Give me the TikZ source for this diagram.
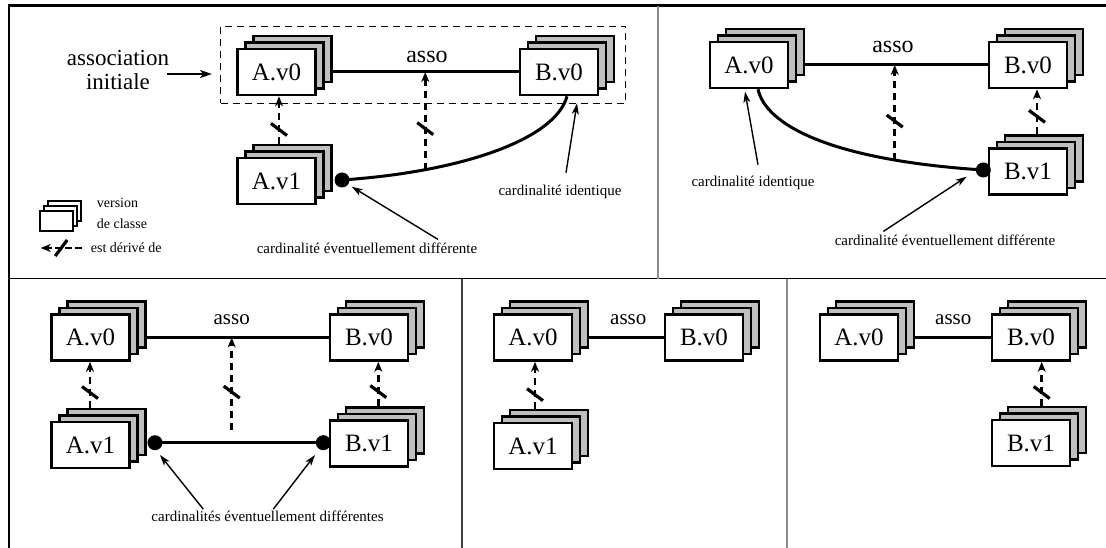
\documentclass[tikz,border=0pt]{standalone}
\usepackage{fontspec}
\setmainfont{Liberation Serif}
\usetikzlibrary{arrows.meta,decorations.markings,calc}
\tikzset{
  cls/.style={draw, line width=2.6pt, fill=white, minimum width=78pt, minimum height=46pt, inner sep=0pt, font=\fontsize{25}{30}\selectfont},
  clsback/.style={draw, line width=2.6pt, fill=gray!50, minimum width=78pt, minimum height=46pt, inner sep=0pt},
  legbox/.style={draw, line width=2.6pt, fill=white, minimum width=33pt, minimum height=20pt, inner sep=0pt},
  assoline/.style={line width=3pt},
  assolbl/.style={inner sep=0pt, font=\fontsize{24}{28}\selectfont},
  assolbltwo/.style={inner sep=0pt, font=\fontsize{21}{25}\selectfont},
  dot/.style={circle, fill=black, inner sep=0pt, minimum size=15pt},
  ann/.style={inner sep=1pt, font=\fontsize{15}{18}\selectfont},
  legtxt/.style={inner sep=0pt, anchor=west, font=\fontsize{14}{17}\selectfont},
  annarrow/.style={line width=1.4pt, -{Stealth[length=11pt,width=7pt,inset=3pt]}},
  bigarrow/.style={line width=2pt, -{Stealth[length=12pt,width=8pt,inset=3pt]}},
  dashbox/.style={draw, line width=1.3pt, dash pattern=on 7pt off 5pt},
  deriv/.style={line width=2.6pt, dash pattern=on 7pt off 5pt, -{Stealth[length=10pt,width=8pt,inset=3pt]},
    decoration={markings, mark=at position #1 with {\draw[solid,arrows=-,line width=3.2pt] (6pt,8pt) -- (-6pt,-8pt);}},
    postaction={decorate}},
  deriv/.default=0.38
}
\newcommand{\clsstack}[3]{%
  \node[clsback,xshift=16pt,yshift=13pt] (#1b) at (#2) {};
  \node[clsback,xshift=8pt,yshift=6.5pt] (#1m) at (#2) {};
  \node[cls] (#1) at (#2) {#3};
}
\begin{document}
\begin{tikzpicture}[x=1pt,y=-1pt]
\useasboundingbox (0,0) rectangle (1106,548);
% frame
\draw[line width=2.6pt] (9,6) -- (9,548);
\draw[line width=3pt] (7.7,6) -- (1106,6);
\draw[line width=1.4pt] (9,278.7) -- (1106,278.7);
\draw[gray!90, line width=1.2pt] (658,6) -- (658,278.7);
\draw[black!75, line width=1.2pt] (462,278.7) -- (462,548);
\draw[gray!90, line width=1.2pt] (787,278.7) -- (787,548);

% ---------- panel 1
\node[dashbox, minimum width=405pt, minimum height=77pt] (p1frame) at (423.2,64.7) {};
\clsstack{p1av0}{276.5,72}{A.v0}
\clsstack{p1bv0}{559,72}{B.v0}
\clsstack{p1av1}{276.5,181}{A.v1}
\node[assolbl] (p1asso) at (427,57) {asso};
\draw[assoline] (p1av0b.east |- p1av0.center) -- (p1bv0.west);
\node[dot] (p1d1) at (342,180) {};
\draw[assoline] (p1d1.center) .. controls (460,172) and (555,140) .. ([xshift=8pt]p1bv0.south) coordinate[pos=0.25] (p1c);
\draw[deriv=0.42] (p1c) -- (p1c |- p1av0.center);
\draw[deriv=0.3] ([xshift=-13.5pt]p1av1b.north) -- ([xshift=2.5pt]p1av0.south);
\node[ann] (p1ci) at (560,191.7) {cardinalité identique};
\draw[annarrow] ([shift={(6pt,11pt)}]p1ci.north) -- ([shift={(18pt,-7pt)}]p1bv0.south);
\node[ann] (p1cd) at (367,248) {cardinalité éventuellement différente};
\draw[annarrow] ([shift={(71pt,2pt)}]p1cd.north) -- ([shift={(9.7pt,-6.7pt)}]p1d1.center);
\node[align=center, inner sep=0pt, font=\fontsize{23}{24}\selectfont] (assoc) at (118,70) {association\\initiale};
\coordinate (ai2) at (212,74);
\draw[bigarrow] ([xshift=-2pt]assoc.east |- ai2) -- (ai2);
% legend
\node[legbox] (lg3) at (64.5,211) {};
\node[legbox] (lg2) at (60.5,216) {};
\node[legbox] (lg1) at (56.5,221) {};
\node[legtxt] (lgv) at (96.7,203) {version};
\node[legtxt] (lgc) at (96.7,224) {de classe};
\node[legtxt] (lgd) at (90.7,248) {est dérivé de};
\draw[deriv=0.5, dash pattern=on 7pt off 3pt] ([xshift=-9pt]lgd.west) -- ++(-41,0);

% ---------- panel 2
\clsstack{p2av0}{749,65}{A.v0}
\clsstack{p2bv0}{1028,65}{B.v0}
\clsstack{p2bv1}{1028,171.7}{B.v1}
\node[assolbl] (p2asso) at (893,46.7) {asso};
\draw[assoline] (p2av0b.east |- p2av0.center) -- (p2bv0.west);
\node[dot] (p2d) at (983.3,170) {};
\draw[assoline] ([xshift=9pt]p2av0.south) .. controls (766,125) and (830,160) .. (p2d.center) coordinate[pos=0.78] (p2c);
\draw[deriv=0.41] (p2c) -- (p2c |- p2av0.center);
\draw[deriv=0.4] ([xshift=-7pt]p2bv1b.north) -- ([xshift=9pt]p2bv0.south);
\node[ann] (p2ci) at (753,182.7) {cardinalité identique};
\draw[annarrow] ([shift={(5pt,10pt)}]p2ci.north) -- ([shift={(-4pt,-2.4pt)}]p2av0.south);
\node[ann] (p2cd) at (945,240) {cardinalité éventuellement différente};
\draw[annarrow] ([shift={(-61.7pt,2pt)}]p2cd.north) -- ([shift={(-16.6pt,-6.7pt)}]p2d.center);

% ---------- panel 3
\clsstack{p3av0}{90.5,337.5}{A.v0}
\clsstack{p3bv0}{369,337.5}{B.v0}
\clsstack{p3av1}{90.5,445}{A.v1}
\clsstack{p3bv1}{369,443.5}{B.v1}
\node[assolbltwo] (p3asso) at (231.7,320) {asso};
\draw[assoline] (p3av0b.east |- p3av0.center) -- (p3bv0.west);
\node[dot] (p3d1) at (155,442.7) {};
\node[dot] (p3d2) at (323.3,442.7) {};
\draw[assoline] (p3d1.center) -- (p3d2.center);
\coordinate (p3c) at (231.7,430);
\draw[deriv=0.41] (p3c) -- (p3c |- p3av0.center);
\draw[deriv=0.33] ([xshift=-16.5pt]p3av1b.north) -- ([xshift=-0.5pt]p3av0.south);
\draw[deriv=0.33] ([xshift=-6.7pt]p3bv1b.north) -- ([xshift=9.3pt]p3bv0.south);
\node[ann] (p3cd) at (267.5,516.7) {cardinalités éventuellement différentes};
\draw[annarrow] ([shift={(-64.2pt,1pt)}]p3cd.north) -- ([shift={(5pt,-12.3pt)}]p3d1.center);
\draw[annarrow] ([shift={(5.8pt,1pt)}]p3cd.north) -- ([shift={(-8.3pt,-12.3pt)}]p3d2.center);

% ---------- panel 4
\clsstack{p4av0}{533,337.5}{A.v0}
\clsstack{p4bv0}{704,337.5}{B.v0}
\clsstack{p4av1}{533,446}{A.v1}
\node[assolbltwo] (p4asso) at (628.3,320) {asso};
\draw[assoline] (p4av0b.east |- p4av0.center) -- (p4bv0.west);
\draw[deriv=0.3] ([xshift=-14pt]p4av1b.north) -- ([xshift=2pt]p4av0.south);

% ---------- panel 5
\clsstack{p5av0}{859,337.5}{A.v0}
\clsstack{p5bv0}{1031,337.5}{B.v0}
\clsstack{p5bv1}{1031,443}{B.v1}
\node[assolbltwo] (p5asso) at (953.3,320) {asso};
\draw[assoline] (p5av0b.east |- p5av0.center) -- (p5bv0.west);
\draw[deriv=0.3] ([xshift=-5.3pt]p5bv1b.north) -- ([xshift=10.7pt]p5bv0.south);
\end{tikzpicture}
\end{document}
